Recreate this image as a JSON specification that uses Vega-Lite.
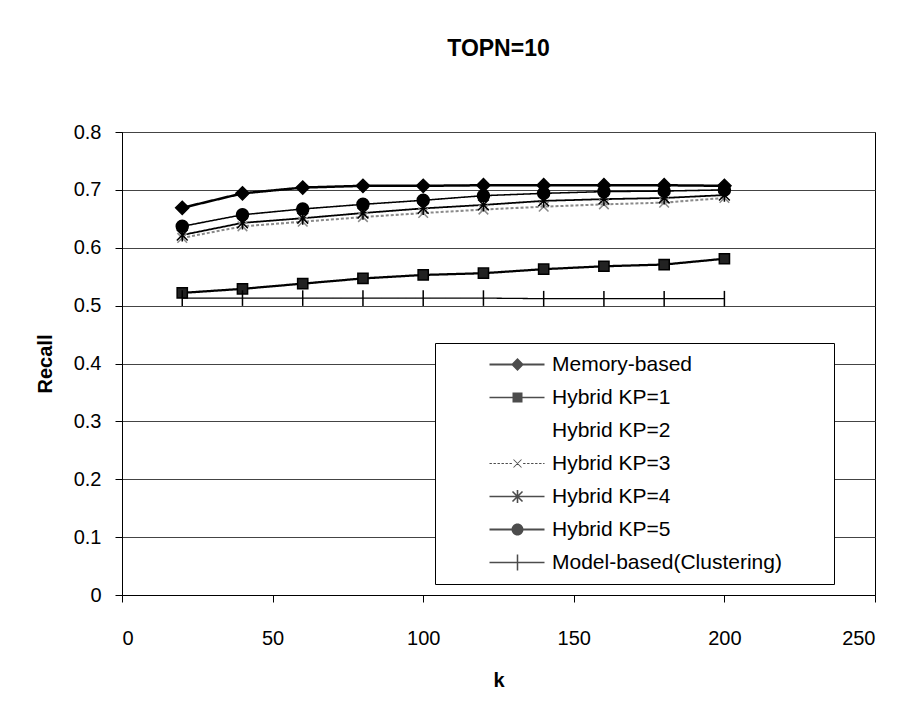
{
  "$schema": "https://vega.github.io/schema/vega-lite/v6.json",
  "width": 753,
  "height": 463,
  "autosize": {"type": "none"},
  "padding": {"left": 122, "top": 132, "right": 23, "bottom": 117},
  "background": "white",
  "title": {"text": "TOPN=10", "fontSize": 23, "fontWeight": "bold", "font": "Liberation Sans", "color": "black", "offset": 61, "anchor": "middle"},
  "config": {
    "font": "Liberation Sans",
    "view": {"stroke": "black", "strokeWidth": 1},
    "axis": {"labelFont": "Liberation Sans", "labelFontSize": 20, "labelColor": "black", "tickColor": "black", "domainColor": "black", "tickSize": 7, "titleFont": "Liberation Sans", "titleFontSize": 20, "titleFontWeight": "bold", "titleColor": "black"}
  },
  "data": {"values": [
    {"k": 20, "recall": 0.669, "series": "Memory-based"},
    {"k": 40, "recall": 0.694, "series": "Memory-based"},
    {"k": 60, "recall": 0.704, "series": "Memory-based"},
    {"k": 80, "recall": 0.707, "series": "Memory-based"},
    {"k": 100, "recall": 0.707, "series": "Memory-based"},
    {"k": 120, "recall": 0.708, "series": "Memory-based"},
    {"k": 140, "recall": 0.708, "series": "Memory-based"},
    {"k": 160, "recall": 0.708, "series": "Memory-based"},
    {"k": 180, "recall": 0.708, "series": "Memory-based"},
    {"k": 200, "recall": 0.707, "series": "Memory-based"},
    {"k": 20, "recall": 0.522, "series": "Hybrid KP=1"},
    {"k": 40, "recall": 0.529, "series": "Hybrid KP=1"},
    {"k": 60, "recall": 0.538, "series": "Hybrid KP=1"},
    {"k": 80, "recall": 0.547, "series": "Hybrid KP=1"},
    {"k": 100, "recall": 0.553, "series": "Hybrid KP=1"},
    {"k": 120, "recall": 0.556, "series": "Hybrid KP=1"},
    {"k": 140, "recall": 0.563, "series": "Hybrid KP=1"},
    {"k": 160, "recall": 0.568, "series": "Hybrid KP=1"},
    {"k": 180, "recall": 0.571, "series": "Hybrid KP=1"},
    {"k": 200, "recall": 0.581, "series": "Hybrid KP=1"},
    {"k": 20, "recall": 0.617, "series": "Hybrid KP=3"},
    {"k": 40, "recall": 0.637, "series": "Hybrid KP=3"},
    {"k": 60, "recall": 0.645, "series": "Hybrid KP=3"},
    {"k": 80, "recall": 0.653, "series": "Hybrid KP=3"},
    {"k": 100, "recall": 0.660, "series": "Hybrid KP=3"},
    {"k": 120, "recall": 0.666, "series": "Hybrid KP=3"},
    {"k": 140, "recall": 0.671, "series": "Hybrid KP=3"},
    {"k": 160, "recall": 0.675, "series": "Hybrid KP=3"},
    {"k": 180, "recall": 0.678, "series": "Hybrid KP=3"},
    {"k": 200, "recall": 0.686, "series": "Hybrid KP=3"},
    {"k": 20, "recall": 0.622, "series": "Hybrid KP=4"},
    {"k": 40, "recall": 0.643, "series": "Hybrid KP=4"},
    {"k": 60, "recall": 0.651, "series": "Hybrid KP=4"},
    {"k": 80, "recall": 0.660, "series": "Hybrid KP=4"},
    {"k": 100, "recall": 0.668, "series": "Hybrid KP=4"},
    {"k": 120, "recall": 0.674, "series": "Hybrid KP=4"},
    {"k": 140, "recall": 0.681, "series": "Hybrid KP=4"},
    {"k": 160, "recall": 0.684, "series": "Hybrid KP=4"},
    {"k": 180, "recall": 0.686, "series": "Hybrid KP=4"},
    {"k": 200, "recall": 0.691, "series": "Hybrid KP=4"},
    {"k": 20, "recall": 0.637, "series": "Hybrid KP=5"},
    {"k": 40, "recall": 0.657, "series": "Hybrid KP=5"},
    {"k": 60, "recall": 0.667, "series": "Hybrid KP=5"},
    {"k": 80, "recall": 0.675, "series": "Hybrid KP=5"},
    {"k": 100, "recall": 0.682, "series": "Hybrid KP=5"},
    {"k": 120, "recall": 0.690, "series": "Hybrid KP=5"},
    {"k": 140, "recall": 0.694, "series": "Hybrid KP=5"},
    {"k": 160, "recall": 0.697, "series": "Hybrid KP=5"},
    {"k": 180, "recall": 0.698, "series": "Hybrid KP=5"},
    {"k": 200, "recall": 0.700, "series": "Hybrid KP=5"},
    {"k": 20, "recall": 0.513, "series": "Model-based(Clustering)"},
    {"k": 40, "recall": 0.513, "series": "Model-based(Clustering)"},
    {"k": 60, "recall": 0.513, "series": "Model-based(Clustering)"},
    {"k": 80, "recall": 0.513, "series": "Model-based(Clustering)"},
    {"k": 100, "recall": 0.513, "series": "Model-based(Clustering)"},
    {"k": 120, "recall": 0.513, "series": "Model-based(Clustering)"},
    {"k": 140, "recall": 0.512, "series": "Model-based(Clustering)"},
    {"k": 160, "recall": 0.512, "series": "Model-based(Clustering)"},
    {"k": 180, "recall": 0.512, "series": "Model-based(Clustering)"},
    {"k": 200, "recall": 0.512, "series": "Model-based(Clustering)"}
  ]},
  "encoding": {
    "x": {"field": "k", "type": "quantitative", "title": "k",
      "scale": {"domain": [0, 250], "nice": false},
      "axis": {"values": [0, 50, 100, 150, 200, 250], "grid": false, "labelPadding": 26, "titlePadding": 22}},
    "y": {"field": "recall", "type": "quantitative", "title": "Recall",
      "scale": {"domain": [0, 0.8], "nice": false, "zero": true},
      "axis": {"values": [0, 0.1, 0.2, 0.3, 0.4, 0.5, 0.6, 0.7, 0.8], "format": ".1~f", "grid": true, "gridColor": "#444", "gridWidth": 1, "labelPadding": 14, "titlePadding": 18}}
  },
  "resolve": {"scale": {"shape": "independent"}},
  "layer": [
    {
      "mark": {"type": "line"},
      "encoding": {
        "detail": {"field": "series"},
        "color": {"field": "series", "legend": null, "scale": {
          "domain": ["Memory-based", "Hybrid KP=1", "Hybrid KP=3", "Hybrid KP=4", "Hybrid KP=5", "Model-based(Clustering)"],
          "range": ["black", "black", "#8a8a8a", "black", "black", "black"]}},
        "strokeWidth": {"field": "series", "legend": null, "scale": {
          "domain": ["Memory-based", "Hybrid KP=1", "Hybrid KP=3", "Hybrid KP=4", "Hybrid KP=5", "Model-based(Clustering)"],
          "range": [2.5, 1.3, 1, 1.6, 2.2, 1.3]}},
        "strokeDash": {"field": "series", "legend": null, "scale": {
          "domain": ["Memory-based", "Hybrid KP=1", "Hybrid KP=3", "Hybrid KP=4", "Hybrid KP=5", "Model-based(Clustering)"],
          "range": [[1, 0], [1, 0], [3, 2], [1, 0], [1, 0], [1, 0]]}}
      }
    },
    {
      "mark": {"type": "point", "filled": true, "size": 144, "strokeWidth": 1.5, "opacity": 1},
      "encoding": {
        "shape": {"field": "series", "legend": null, "scale": {
          "domain": ["Memory-based", "Hybrid KP=1", "Hybrid KP=3", "Hybrid KP=4", "Hybrid KP=5", "Model-based(Clustering)"],
          "range": [
            "M0,-1.1L1.1,0L0,1.1L-1.1,0Z",
            "M-0.85,-0.85H0.85V0.85H-0.85Z",
            "M-0.8,-0.8L0.8,0.8M-0.8,0.8L0.8,-0.8",
            "M-0.9,-0.9L0.9,0.9M-0.9,0.9L0.9,-0.9M0,-1.1V1.1",
            "M-1,0A1,1,0,1,0,1,0A1,1,0,1,0,-1,0Z",
            "M0,-1.3V1.3"]}},
        "fill": {"field": "series", "legend": null, "scale": {
          "domain": ["Memory-based", "Hybrid KP=1", "Hybrid KP=3", "Hybrid KP=4", "Hybrid KP=5", "Model-based(Clustering)"],
          "range": ["black", "#222", "#8a8a8a", "black", "black", "black"]}},
        "stroke": {"field": "series", "legend": null, "scale": {
          "domain": ["Memory-based", "Hybrid KP=1", "Hybrid KP=3", "Hybrid KP=4", "Hybrid KP=5", "Model-based(Clustering)"],
          "range": ["black", "black", "#8a8a8a", "black", "black", "black"]}}
      }
    },
    {
      "transform": [{"filter": "datum.k < 0"}],
      "mark": {"type": "point", "filled": true, "color": "black", "size": 64},
      "encoding": {
        "shape": {"field": "series", "scale": {
          "domain": ["Memory-based", "Hybrid KP=1", "Hybrid KP=2", "Hybrid KP=3", "Hybrid KP=4", "Hybrid KP=5", "Model-based(Clustering)"],
          "range": [
            "M8.25,-0.25H22V0.25H8.25ZM15.25,-1.6L16.85,0L15.25,1.6L13.65,0Z",
            "M8.25,-0.16H22V0.16H8.25ZM14,-1.25H16.5V1.25H14Z",
            "M0,0",
            "M8.25,-0.12H8.85V0.12H8.25ZM9.25,-0.12H9.85V0.12H9.25ZM10.25,-0.12H10.85V0.12H10.25ZM11.25,-0.12H11.85V0.12H11.25ZM12.25,-0.12H12.85V0.12H12.25ZM13.25,-0.12H13.85V0.12H13.25ZM16.65,-0.12H17.25V0.12H16.65ZM17.65,-0.12H18.25V0.12H17.65ZM18.65,-0.12H19.25V0.12H18.65ZM19.65,-0.12H20.25V0.12H19.65ZM20.65,-0.12H21.25V0.12H20.65ZM21.65,-0.12H22V0.12H21.65ZM14.33,-1.08L16.33,0.92L16.17,1.08L14.17,-0.92ZM14.17,0.92L16.17,-1.08L16.33,-0.92L14.33,1.08Z",
            "M8.25,-0.18H22V0.18H8.25ZM14.14,-1.39L16.64,1.11L16.36,1.39L13.86,-1.11ZM13.86,1.11L16.36,-1.39L16.64,-1.11L14.14,1.39ZM15.05,-1.6H15.45V1.6H15.05Z",
            "M8.25,-0.22H22V0.22H8.25ZM13.75,0A1.5,1.5,0,1,1,16.75,0A1.5,1.5,0,1,1,13.75,0Z",
            "M8.25,-0.16H22V0.16H8.25ZM15.06,-2H15.44V2H15.06Z"]},
          "legend": {
            "orient": "none", "legendX": 313, "legendY": 211,
            "title": null,
            "padding": 11, "strokeColor": "black", "fillColor": "white",
            "symbolSize": 64, "symbolStrokeWidth": 0, "symbolFillColor": "black",
            "labelFont": "Liberation Sans", "labelFontSize": 21, "labelColor": "black", "labelOffset": 85, "labelLimit": 500,
            "labelExpr": "datum.label + '\u00a0\u00a0\u00a0\u00a0\u00a0\u00a0\u00a0\u200b'",
            "rowPadding": 11,
            "encode": {"symbols": {"update": {
              "fill": {"signal": "datum.value === 'Hybrid KP=3' ? '#8a8a8a' : 'black'"},
              "opacity": {"value": 1}
            }}}
          }
        }
      }
    }
  ]
}
